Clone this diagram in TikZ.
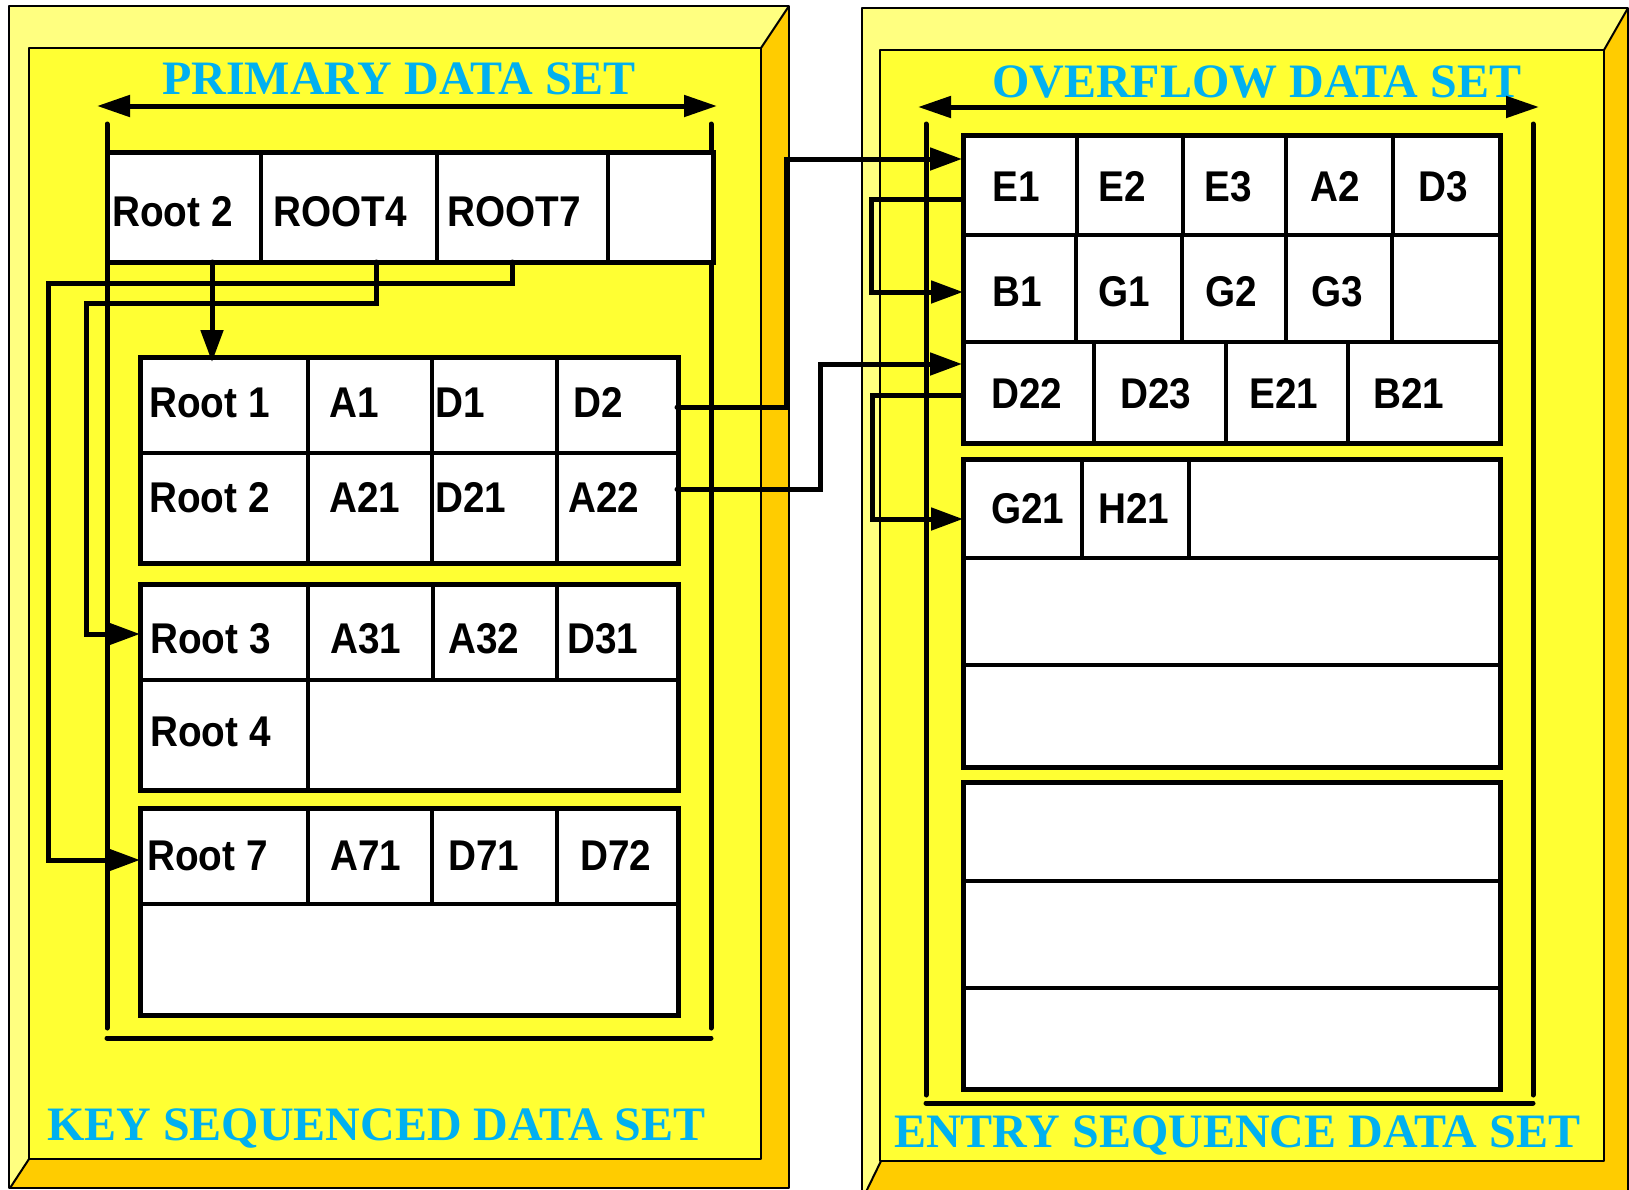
\documentclass[tikz,border=0pt]{standalone}
\usepackage{fontspec}
\usetikzlibrary{arrows.meta}
\newfontfamily\titlefont{Liberation Serif}
\newfontfamily\cellfont[FakeStretch=0.9]{Liberation Sans}
\definecolor{bevlight}{RGB}{255,255,128}
\definecolor{face}{RGB}{255,255,51}
\definecolor{bevdark}{RGB}{255,204,0}
\definecolor{titlecyan}{RGB}{0,176,240}
\tikzset{
  outline/.style={draw=black, line width=2pt, line join=round},
  tbl/.style={draw, line width=5pt, fill=white, inner sep=0pt, outer sep=0pt, anchor=north west},
  div/.style={line width=4pt},
  bracket/.style={line width=5pt, line cap=round},
  conn/.style={line width=5pt, line cap=round, line join=miter},
  tip/.style={-{Triangle[length=32pt,width=22pt]}},
  dbl/.style={{Triangle[length=33pt,width=21pt]}-{Triangle[length=33pt,width=21pt]}},
  title/.style={anchor=base west, inner sep=0pt, text=titlecyan, font=\titlefont\bfseries\fontsize{48}{50}\selectfont},
  cell/.style={anchor=base west, inner sep=0pt, font=\cellfont\bfseries\fontsize{43}{45}\selectfont},
}
\begin{document}
\begin{tikzpicture}[x=1pt,y=-1pt]
\useasboundingbox (0,0) rectangle (1629,1189);

% ---------- bevelled panels ----------
% key sequenced data set
\fill[bevlight] (9,6) rectangle (789,1188);
\fill[bevdark] (789,6) -- (761,48) -- (761,1159) -- (29,1159) -- (10,1188) -- (789,1188) -- cycle;
\fill[face] (29,48) rectangle (761,1159);
\draw[outline] (9,6) rectangle (789,1188);
\draw[outline] (29,48) rectangle (761,1159);
\draw[outline] (761,48) -- (789,6);
\draw[outline] (29,1159) -- (10,1188);
% entry sequence data set
\fill[bevlight] (862,8) rectangle (1640,1210);
\fill[bevdark] (1628,8) -- (1604,50) -- (1604,1161) -- (881,1161) -- (862,1200) -- (1640,1210) -- (1640,8) -- cycle;
\fill[face] (880,50) rectangle (1604,1161);
\draw[outline] (862,8) rectangle (1628,1210);
\draw[outline] (880,50) rectangle (1604,1161);
\draw[outline] (1604,50) -- (1628,8);
\draw[outline] (881,1161) -- (862,1200);

% ---------- titles ----------
\node[title] (ttlPrimary) at (162,94) {PRIMARY DATA SET};
\node[title] (ttlOverflow) at (992,97) {OVERFLOW DATA SET};
\node[title] (ttlKsds) at (47,1140) {KEY SEQUENCED DATA SET};
\node[title] (ttlEsds) at (894,1147) {ENTRY SEQUENCE DATA SET};

% ---------- extent brackets ----------
\draw[bracket, dbl] (97,106) -- (717,106);
\draw[bracket] (107,124) -- (107,1028);
\draw[bracket] (711,124) -- (711,1028);
\draw[bracket] (107,1038) -- (711,1038);

\draw[bracket, dbl] (918,107) -- (1539,107);
\draw[bracket] (926,124) -- (926,1095);
\draw[bracket] (1533,124) -- (1533,1095);
\draw[bracket] (926,1103) -- (1533,1103);

% ---------- primary data set: index record ----------
\node[tbl, minimum width=606pt, minimum height=110pt] (idx) at (107,152) {};
\draw[div] (261,152) -- (261,262);
\draw[div] (437,152) -- (437,262);
\draw[div] (608,152) -- (608,262);
\node[cell] (iRoot2) at (112,226) {Root 2};
\node[cell] (iRoot4) at (273,226) {ROOT4};
\node[cell] (iRoot7) at (447,226) {ROOT7};

% ---------- primary data set: control intervals ----------
\node[tbl, minimum width=538pt, minimum height=206pt] (ciA) at (140,357) {};
\draw[div] (140,453) -- (678,453);
\draw[div] (308,357) -- (308,563);
\draw[div] (432,357) -- (432,563);
\draw[div] (557,357) -- (557,563);
\node[cell] (aRoot1) at (149,417) {Root 1};
\node[cell] (aA1) at (329,417) {A1};
\node[cell] (aD1) at (435,417) {D1};
\node[cell] (aD2) at (573,417) {D2};
\node[cell] (aRoot2) at (149,512) {Root 2};
\node[cell] (aA21) at (329,512) {A21};
\node[cell] (aD21) at (435,512) {D21};
\node[cell] (aA22) at (568,512) {A22};

\node[tbl, minimum width=538pt, minimum height=206pt] (ciB) at (140,584) {};
\draw[div] (140,680) -- (678,680);
\draw[div] (308,584) -- (308,790);
\draw[div] (433,584) -- (433,680);
\draw[div] (557,584) -- (557,680);
\node[cell] (bRoot3) at (150,653) {Root 3};
\node[cell] (bA31) at (330,653) {A31};
\node[cell] (bA32) at (448,653) {A32};
\node[cell] (bD31) at (567,653) {D31};
\node[cell] (bRoot4) at (150,746) {Root 4};

\node[tbl, minimum width=538pt, minimum height=207pt] (ciC) at (140,808) {};
\draw[div] (140,904) -- (678,904);
\draw[div] (308,808) -- (308,904);
\draw[div] (432,808) -- (432,904);
\draw[div] (557,808) -- (557,904);
\node[cell] (cRoot7) at (147,870) {Root 7};
\node[cell] (cA71) at (330,870) {A71};
\node[cell] (cD71) at (448,870) {D71};
\node[cell] (cD72) at (580,870) {D72};

% ---------- overflow data set ----------
\node[tbl, minimum width=537pt, minimum height=308pt] (ovA) at (963,135) {};
\draw[div] (963,235) -- (1500,235);
\draw[div] (963,342) -- (1500,342);
\foreach \x in {1077,1183,1286,1393} \draw[div] (\x,135) -- (\x,235);
\foreach \x in {1076,1182,1286,1392} \draw[div] (\x,235) -- (\x,342);
\foreach \x in {1094,1226,1348} \draw[div] (\x,342) -- (\x,443);
\node[cell] (oE1) at (992,201) {E1};
\node[cell] (oE2) at (1098,201) {E2};
\node[cell] (oE3) at (1204,201) {E3};
\node[cell] (oA2) at (1310,201) {A2};
\node[cell] (oD3) at (1418,201) {D3};
\node[cell] (oB1) at (992,306) {B1};
\node[cell] (oG1) at (1098,306) {G1};
\node[cell] (oG2) at (1205,306) {G2};
\node[cell] (oG3) at (1311,306) {G3};
\node[cell] (oD22) at (991,408) {D22};
\node[cell] (oD23) at (1120,408) {D23};
\node[cell] (oE21) at (1249,408) {E21};
\node[cell] (oB21) at (1373,408) {B21};

\node[tbl, minimum width=537pt, minimum height=308pt] (ovB) at (963,459) {};
\draw[div] (963,558) -- (1500,558);
\draw[div] (963,665) -- (1500,665);
\draw[line width=3.5pt] (1082,461) -- (1082,558);
\draw[line width=3.5pt] (1189,461) -- (1189,558);
\node[cell] (oG21) at (991,523) {G21};
\node[cell] (oH21) at (1098,523) {H21};

\node[tbl, minimum width=537pt, minimum height=307pt] (ovC) at (963,782) {};
\draw[div] (963,881) -- (1500,881);
\draw[div] (963,988) -- (1500,988);

% ---------- pointer ends ----------
\coordinate (pRoot2) at (212,262);
\coordinate (pRoot4) at (376,262);
\coordinate (pRoot7) at (512,262);
\coordinate (inRoot1) at (212,362);
\coordinate (inRoot3) at (140,634);
\coordinate (inRoot7) at (140,860);
\coordinate (pD2) at (677,407);
\coordinate (pA22) at (677,489);
\coordinate (inE1) at (962,159);
\coordinate (inD22) at (962,364);
\coordinate (pE1) at (963,199);
\coordinate (inB1) at (963,292);
\coordinate (pD22) at (963,395);
\coordinate (inG21) at (963,519);

% ---------- pointers ----------
\draw[conn, tip] (pRoot2) -- (inRoot1);
\draw[conn, tip] (pRoot4) -- (376,303) -- (86,303) -- (86,634) -- (inRoot3);
\draw[conn, tip] (pRoot7) -- (512,283) -- (48,283) -- (48,860) -- (inRoot7);
\draw[conn, tip] (pD2) -- (786,407) -- (786,159) -- (inE1);
\draw[conn, tip] (pA22) -- (820,489) -- (820,364) -- (inD22);
\draw[conn, tip] (pE1) -- (871,199) -- (871,292) -- (inB1);
\draw[conn, tip] (pD22) -- (872,395) -- (872,519) -- (inG21);
\end{tikzpicture}
\end{document}
